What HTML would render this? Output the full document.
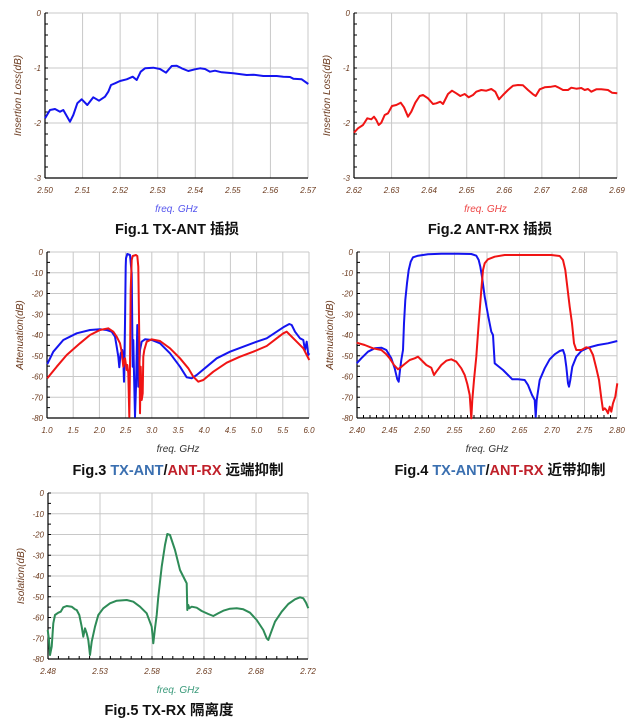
<!DOCTYPE html>
<html><head><meta charset="utf-8">
<style>
html,body{margin:0;padding:0;background:#fff;width:638px;height:722px;overflow:hidden}
svg{display:block}
.t{font-family:"Liberation Sans","DejaVu Sans",sans-serif;font-style:italic;font-size:8px;fill:#6b3a1e}
.yl{font-family:"Liberation Sans","DejaVu Sans",sans-serif;font-style:italic;font-size:10px;fill:#6b3a1e}
.fx{font-family:"Liberation Sans","DejaVu Sans",sans-serif;font-style:italic;font-size:10px}
.cap{font-family:"Liberation Sans","Noto Sans CJK SC",sans-serif;font-weight:bold;font-size:14.5px;fill:#111}
</style></head><body>
<svg id="s" width="638" height="722" xmlns="http://www.w3.org/2000/svg"></svg>
<script>
const S=document.getElementById('s');let h='';
function plot(c){
 const {x0,x1,y0,y1,nx,ny,xl,yl,ylab,fcol,minor,bt}=c;
 for(let i=0;i<=nx;i++){const x=x0+(x1-x0)*i/nx;h+=`<line x1="${x}" y1="${y0}" x2="${x}" y2="${y1}" stroke="#c8c8c8" stroke-width="1"/>`;
  h+=`<text class="t" x="${x}" y="${y1+15}" text-anchor="middle">${xl[i]}</text>`;}
 for(let j=0;j<=ny;j++){const y=y0+(y1-y0)*j/ny;h+=`<line x1="${x0}" y1="${y}" x2="${x1}" y2="${y}" stroke="#c8c8c8" stroke-width="1"/>`;
  h+=`<text class="t" x="${x0-4}" y="${y+3}" text-anchor="end">${yl[j]}</text>`;}
 const m=minor||5;
 for(let j=0;j<ny*m;j++){const y=y0+(y1-y0)*j/(ny*m);h+=`<line x1="${x0}" y1="${y}" x2="${x0+3}" y2="${y}" stroke="#000"/>`;}
 if(bt)for(let i=0;i<nx*5;i++){const x=x0+(x1-x0)*i/(nx*5);h+=`<line x1="${x}" y1="${y1}" x2="${x}" y2="${y1-3}" stroke="#000"/>`;}
 h+=`<line x1="${x0}" y1="${y0}" x2="${x0}" y2="${y1}" stroke="#000" stroke-width="1.2"/><line x1="${x0}" y1="${y1}" x2="${x1}" y2="${y1}" stroke="#000" stroke-width="1.2"/>`;
 const cy=(y0+y1)/2;h+=`<text class="yl" transform="translate(${x0-24},${cy}) rotate(-90)" text-anchor="middle">${ylab}</text>`;
 h+=`<text class="fx" x="${(x0+x1)/2}" y="${y1+34}" text-anchor="middle" fill="${fcol}">freq. GHz</text>`;
}
function line(ox,oy,pts,col){h+=`<polyline fill="none" stroke="${col}" stroke-width="2" stroke-linejoin="round" points="${pts.map(p=>(ox+p[0]/3).toFixed(1)+','+(oy+p[1]/3).toFixed(1)).join(' ')}"/>`;}
const B='#1414f0',R='#f01414',G='#2e8b57';
plot({x0:45,x1:308,y0:13,y1:178,nx:7,ny:3,minor:5,xl:['2.50','2.51','2.52','2.53','2.54','2.55','2.56','2.57'],yl:['0','-1','-2','-3'],ylab:'Insertion Loss(dB)',fcol:'#5555ee'});
plot({x0:354,x1:617,y0:13,y1:178,nx:7,ny:3,minor:5,xl:['2.62','2.63','2.64','2.65','2.66','2.67','2.68','2.69'],yl:['0','-1','-2','-3'],ylab:'Insertion Loss(dB)',fcol:'#ee4444'});
plot({x0:47,x1:309,y0:252,y1:418,nx:10,ny:8,minor:2,xl:['1.0','1.5','2.0','2.5','3.0','3.5','4.0','4.5','5.0','5.5','6.0'],yl:['0','-10','-20','-30','-40','-50','-60','-70','-80'],ylab:'Attenuation(dB)',fcol:'#333'});
plot({x0:357,x1:617,y0:252,y1:418,nx:8,ny:8,minor:2,bt:1,xl:['2.40','2.45','2.50','2.55','2.60','2.65','2.70','2.75','2.80'],yl:['0','-10','-20','-30','-40','-50','-60','-70','-80'],ylab:'Attenuation(dB)',fcol:'#333'});
plot({x0:48,x1:308,y0:493,y1:659,nx:5,ny:8,minor:2,bt:1,xl:['2.48','2.53','2.58','2.63','2.68','2.72'],yl:['0','-10','-20','-30','-40','-50','-60','-70','-80'],ylab:'Isolation(dB)',fcol:'#3a9a7a'});
line(0,0,[[135,355],[150,330],[165,327],[180,335],[190,330],[210,365],[220,345],[232,310],[245,298],[262,315],[280,292],[297,302],[315,290],[325,275],[333,255],[345,250],[360,243],[380,238],[398,230],[410,240],[422,215],[435,205],[460,203],[480,207],[498,218],[515,198],[530,197],[545,205],[565,213],[585,208],[600,205],[615,207],[630,215],[645,212],[665,217],[700,220],[740,225],[760,224],[790,228],[830,228],[850,230],[870,231],[880,236],[905,238],[925,252]],B);
line(318,0,[[108,398],[120,385],[135,375],[148,355],[160,358],[168,350],[175,360],[182,375],[190,368],[200,345],[210,340],[222,318],[235,315],[248,308],[258,322],[270,350],[280,335],[292,308],[305,288],[315,285],[330,295],[345,312],[355,310],[367,305],[375,312],[390,282],[402,272],[415,280],[427,288],[440,282],[452,292],[465,285],[475,275],[490,270],[505,272],[520,267],[532,275],[543,298],[555,285],[570,270],[585,257],[600,255],[615,256],[630,270],[645,283],[653,288],[665,268],[680,262],[700,260],[712,258],[720,262],[735,270],[750,270],[760,263],[775,266],[790,264],[800,270],[810,267],[820,275],[835,268],[850,268],[870,270],[882,278],[898,280]],R);
line(0,240,[[142,372],[160,335],[190,300],[230,280],[270,270],[300,268],[320,270],[335,275],[345,290],[350,320],[355,350],[358,382],[362,340],[367,330],[370,360],[372,425],[375,250],[377,80],[378,55],[382,42],[390,45],[395,100],[398,380],[400,300],[402,400],[405,530],[408,440],[410,340],[412,255],[415,440],[418,380],[420,330],[425,305],[435,298],[455,300],[480,310],[510,340],[540,380],[560,412],[575,415],[590,405],[620,380],[650,355],[690,335],[730,320],[770,305],[800,295],[830,275],[850,262],[868,252],[875,255],[885,275],[900,295],[910,300],[915,330],[920,305],[925,345],[928,340]],B);
line(0,240,[[142,415],[170,380],[200,345],[240,310],[270,285],[300,270],[325,265],[340,275],[350,290],[360,310],[365,335],[370,380],[375,355],[380,390],[382,375],[385,400],[388,530],[390,380],[392,150],[395,60],[398,48],[408,45],[412,48],[415,80],[418,300],[420,520],[422,380],[425,480],[428,460],[430,350],[433,330],[440,305],[455,298],[480,303],[510,325],[540,355],[565,385],[580,410],[595,425],[610,420],[640,395],[680,368],[720,350],[760,335],[800,318],[830,295],[850,280],[860,275],[870,285],[890,305],[910,325],[920,345],[928,360]],R);
line(318,240,[[116,370],[130,355],[150,335],[170,325],[190,323],[205,330],[220,355],[230,385],[238,418],[242,425],[246,390],[250,360],[255,330],[258,250],[262,180],[267,130],[272,90],[278,65],[285,52],[300,47],[330,43],[370,41],[420,41],[460,42],[475,47],[482,60],[487,80],[492,110],[500,170],[510,225],[520,275],[525,285],[530,370],[540,378],[555,390],[570,405],[583,418],[600,418],[620,420],[630,435],[642,465],[650,480],[653,530],[656,480],[665,420],[680,385],[695,358],[710,343],[725,333],[735,330],[740,345],[745,380],[750,430],[753,440],[757,420],[763,380],[775,350],[790,333],[810,323],[840,315],[870,310],[898,303]],B);
line(318,240,[[116,308],[140,315],[165,325],[190,330],[205,343],[215,355],[228,375],[240,388],[248,382],[260,372],[275,360],[290,355],[300,350],[310,360],[325,375],[340,383],[348,405],[355,395],[370,375],[385,362],[400,358],[415,365],[430,385],[440,405],[448,432],[455,465],[460,535],[463,480],[468,420],[475,350],[482,250],[490,150],[495,90],[500,70],[510,58],[530,50],[560,45],[600,45],[700,45],[725,48],[735,60],[742,90],[748,140],[755,200],[762,250],[768,310],[775,330],[790,330],[805,322],[815,325],[825,345],[835,385],[843,420],[850,475],[855,510],[860,505],[865,510],[870,520],[875,500],[880,515],[885,490],[892,470],[898,430]],R);
line(0,480,[[143,450],[147,480],[150,525],[155,500],[160,430],[165,405],[175,398],[182,395],[190,382],[200,378],[215,380],[225,388],[230,390],[238,405],[245,440],[250,470],[255,445],[260,460],[265,480],[270,525],[275,485],[285,440],[295,405],[310,385],[330,370],[350,362],[380,360],[400,365],[420,380],[440,400],[455,440],[460,490],[465,445],[470,405],[475,350],[485,260],[495,195],[502,162],[510,165],[525,210],[540,270],[555,300],[560,310],[562,390],[565,375],[568,385],[575,380],[590,383],[605,393],[625,402],[640,408],[655,400],[670,392],[690,386],[710,385],[730,388],[750,398],[770,420],[790,450],[800,475],[805,480],[812,460],[825,425],[845,395],[865,372],[885,358],[900,352],[910,355],[918,368],[925,385]],G);
h+=`<text class="cap" x="177" y="234" text-anchor="middle">Fig.1 TX-ANT 插损</text>`;
h+=`<text class="cap" x="490" y="234" text-anchor="middle">Fig.2 ANT-RX 插损</text>`;
h+=`<text class="cap" x="178" y="475" text-anchor="middle">Fig.3 <tspan fill="#3a6fb0">TX-ANT</tspan>/<tspan fill="#c0202a">ANT-RX</tspan> 远端抑制</text>`;
h+=`<text class="cap" x="500" y="475" text-anchor="middle">Fig.4 <tspan fill="#3a6fb0">TX-ANT</tspan>/<tspan fill="#c0202a">ANT-RX</tspan> 近带抑制</text>`;
h+=`<text class="cap" x="169" y="715" text-anchor="middle">Fig.5 TX-RX 隔离度</text>`;
S.innerHTML=h;
</script>
</body></html>
